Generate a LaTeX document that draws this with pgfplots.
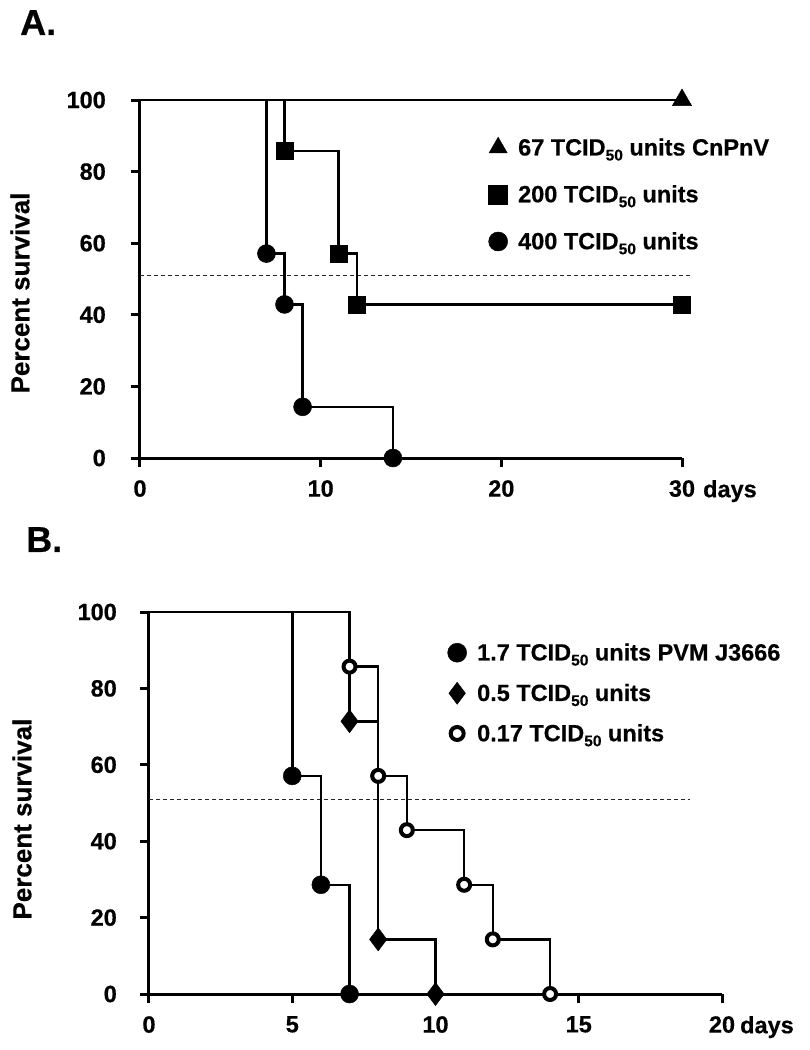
\documentclass[border=0pt]{standalone}
\usepackage{fontspec}
\setmainfont{Liberation Sans}[FakeStretch=1.0, BoldFeatures={FakeBold=0.5}]
\usepackage{pgfplots}
\pgfplotsset{compat=1.18}
\newcommand{\sub}[1]{\raisebox{-5pt}{\fontsize{15.5}{15.5}\selectfont #1}}
\pgfplotsset{
  km/.style={
    scale only axis,
    axis lines=left,
    axis line style={line width=3pt, -},
    ymin=0, ymax=100, ytick={0,20,40,60,80,100},
    tick align=outside,
    major tick length=9pt,
    every tick/.style={line width=3pt, black},
    clip=false,
    /pgf/number format/assume math mode=true,
    xticklabel style={inner sep=0pt, anchor=north, yshift=-13pt},
    yticklabel style={inner sep=0pt, anchor=east, xshift=-25pt},
    legend cell align=left,
    legend image code/.code={\draw[##1] plot coordinates {(0pt,0pt)}; \path[draw=none, fill=none] (-10pt,-8pt) rectangle (10pt,8pt);},
    legend style={draw=none, fill=none, inner sep=0pt, column sep=10pt, nodes={inner sep=0pt}},
    ylabel={Percent survival},
    every axis y label/.style={rotate=90, anchor=center, inner sep=0pt, font=\fontsize{26}{28}\selectfont\bfseries},
    xlabel={days},
  },
  dataline/.style={const plot, line width=2.5pt, black, no marks, forget plot},
  fmark/.style={only marks, black, forget plot, mark options={solid, line width=0.5pt, draw=black, fill=black}},
}
\begin{document}
\begin{tikzpicture}[font=\fontsize{23.5}{27}\selectfont\bfseries]
\useasboundingbox (0pt,-1050pt) rectangle (809pt,0pt);
\node[anchor=north west, inner sep=0pt, font=\fontsize{36}{36}\selectfont\bfseries] at (20pt,-10pt) {A.};
\node[anchor=north west, inner sep=0pt, font=\fontsize{36}{36}\selectfont\bfseries] at (26pt,-527pt) {B.};

% ---------------- Panel A ----------------
\begin{axis}[km, at={(140pt,-458pt)}, anchor=south west, width=542pt, height=358pt,
  xmin=0, xmax=30, xtick={0,10,20,30},
  every axis y label/.append style={at={(axis description cs:-0.2214,0.461)}},
  every axis x label/.style={at={(axis description cs:1,0)}, anchor=north west, inner sep=0pt, xshift=21pt, yshift=-22pt},
  legend style={at={(axis cs:19.26,89.66)}, anchor=north west, row sep=28pt},
]
\addlegendimage{mark=triangle*, mark size=10.5pt, black, mark options={line width=0.5pt}}
\addlegendentry{67 TCID\sub{50} units CnPnV}
\addlegendimage{mark=square*, mark size=9.5pt, black, mark options={line width=0.5pt}}
\addlegendentry{200 TCID\sub{50} units}
\addlegendimage{mark=*, mark size=9.5pt, black, mark options={line width=0.5pt}}
\addlegendentry{400 TCID\sub{50} units}

\addplot[forget plot, no marks, black!85, line width=1.2pt, dash pattern=on 4pt off 3pt] coordinates {(0,51) (30.5,51)};
\addplot[dataline] coordinates {(0,100) (30,100)};
\addplot[dataline] coordinates {(0,100) (8,85.7) (11,57.1) (12,42.9) (30,42.9)};
\addplot[dataline] coordinates {(0,100) (7,57.1) (8,42.9) (9,14.3) (14,0) (30,0)};
\addplot[fmark, mark=triangle*, mark size=11pt] coordinates {(30,100)};
\addplot[fmark, mark=square*, mark size=8.5pt] coordinates {(8,85.7) (11,57.1) (12,42.9) (30,42.9)};
\addplot[fmark, mark=*, mark size=9pt] coordinates {(7,57.1) (8,42.9) (9,14.3) (14,0)};
\end{axis}

% ---------------- Panel B ----------------
\begin{axis}[km, at={(149pt,-994pt)}, anchor=south west, width=573pt, height=382pt,
  xmin=0, xmax=20, xtick={0,5,10,15,20},
  every axis y label/.append style={at={(axis description cs:-0.2216,0.458)}},
  every axis x label/.style={at={(axis description cs:1,0)}, anchor=north west, inner sep=0pt, xshift=18pt, yshift=-22pt},
  yticklabel style={xshift=2pt},
  legend style={at={(axis cs:10.40,91.88)}, anchor=north west, row sep=20pt},
]
\addlegendimage{mark=*, mark size=9.5pt, black, mark options={line width=0.5pt}}
\addlegendentry{1.7 TCID\sub{50} units PVM J3666}
\addlegendimage{mark=diamond*, mark size=11pt, black, mark options={line width=0.5pt}}
\addlegendentry{0.5 TCID\sub{50} units}
\addlegendimage{mark=*, mark size=6.5pt, black, mark options={line width=4pt, fill=white}}
\addlegendentry{0.17 TCID\sub{50} units}

\addplot[forget plot, no marks, black!85, line width=1.2pt, dash pattern=on 4pt off 3pt] coordinates {(0,51) (18.9,51)};
\addplot[dataline] coordinates {(0,100) (5,57.1) (6,28.6) (7,0) (20,0)};
\addplot[dataline] coordinates {(0,100) (7,71.4) (8,14.3) (10,0)};
\addplot[dataline] coordinates {(0,100) (7,85.7) (8,57.1) (9,42.9) (11,28.6) (12,14.3) (14,0)};
\addplot[fmark, mark=*, mark size=9pt] coordinates {(5,57.1) (6,28.6) (7,0)};
\addplot[fmark, mark=diamond*, mark size=11.5pt] coordinates {(7,71.4) (8,14.3) (10,0)};
\addplot[only marks, forget plot, mark=*, mark size=6pt, mark options={solid, line width=4pt, draw=black, fill=white}] coordinates {(7,85.7) (8,57.1) (9,42.9) (11,28.6) (12,14.3) (14,0)};
\end{axis}
\end{tikzpicture}
\end{document}
